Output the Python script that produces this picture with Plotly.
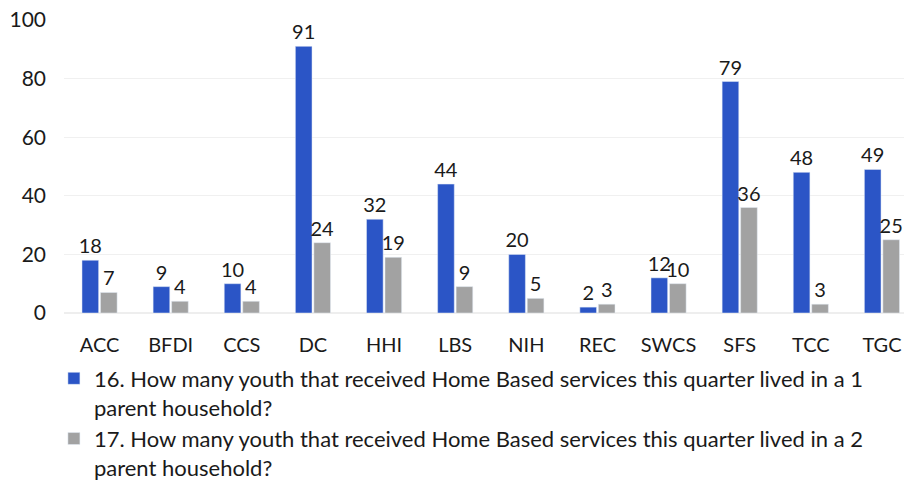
import plotly.graph_objects as go

# Agencies along the x axis
agencies = ["ACC", "BFDI", "CCS", "DC", "HHI", "LBS", "NIH", "REC", "SWCS", "SFS", "TCC", "TGC"]

# Youth counts per household type
one_parent = [18, 9, 10, 91, 32, 44, 20, 2, 12, 79, 48, 49]
two_parent = [7, 4, 4, 24, 19, 9, 5, 3, 10, 36, 3, 25]

series_names = [
    "16. How many youth that received Home Based services this quarter lived in a 1<br>parent household?",
    "17. How many youth that received Home Based services this quarter lived in a 2<br>parent household?",
]

y_ticks = [0, 20, 40, 60, 80, 100]

FONT = "Lato, 'Open Sans', sans-serif"
TEXT_COLOR = "#1a1a1a"

fig = go.Figure()
fig.add_trace(go.Bar(
    x=agencies, y=one_parent, name=series_names[0],
    marker_color="#2b55c6",
    text=one_parent, textposition="outside", cliponaxis=False, constraintext="none",
    textfont=dict(size=20, color=TEXT_COLOR, family=FONT),
))
fig.add_trace(go.Bar(
    x=agencies, y=two_parent, name=series_names[1],
    marker_color="#a2a2a2",
    text=two_parent, textposition="outside", cliponaxis=False, constraintext="none",
    textfont=dict(size=20, color=TEXT_COLOR, family=FONT),
))

fig.update_layout(
    width=904, height=481,
    margin=dict(l=64, r=0, t=20, b=168, autoexpand=False),
    paper_bgcolor="white", plot_bgcolor="white",
    font=dict(family=FONT, size=20, color=TEXT_COLOR),
    barmode="group", bargap=0.48, bargroupgap=0.1,
    showlegend=True,
    legend=dict(
        x=-0.012, xanchor="left", y=-0.152, yanchor="top",
        font=dict(size=22, color=TEXT_COLOR, family=FONT),
        tracegroupgap=0, itemwidth=30, valign="top", bgcolor="rgba(0,0,0,0)",
    ),
)
fig.update_xaxes(
    range=[-0.5, 11.31], showgrid=False, showline=False, ticks="", automargin=False,
    tickfont=dict(size=20, family=FONT, color=TEXT_COLOR), ticklabelstandoff=18,
)
fig.update_yaxes(
    range=[0, 100], tickvals=y_ticks, showgrid=True, gridcolor="#f0f0f0", automargin=False,
    zeroline=True, zerolinecolor="#eeeeee", showline=False, ticks="",
    tickfont=dict(size=21, family=FONT, color=TEXT_COLOR), ticklabelstandoff=17,
)

fig.write_html("out.html")
